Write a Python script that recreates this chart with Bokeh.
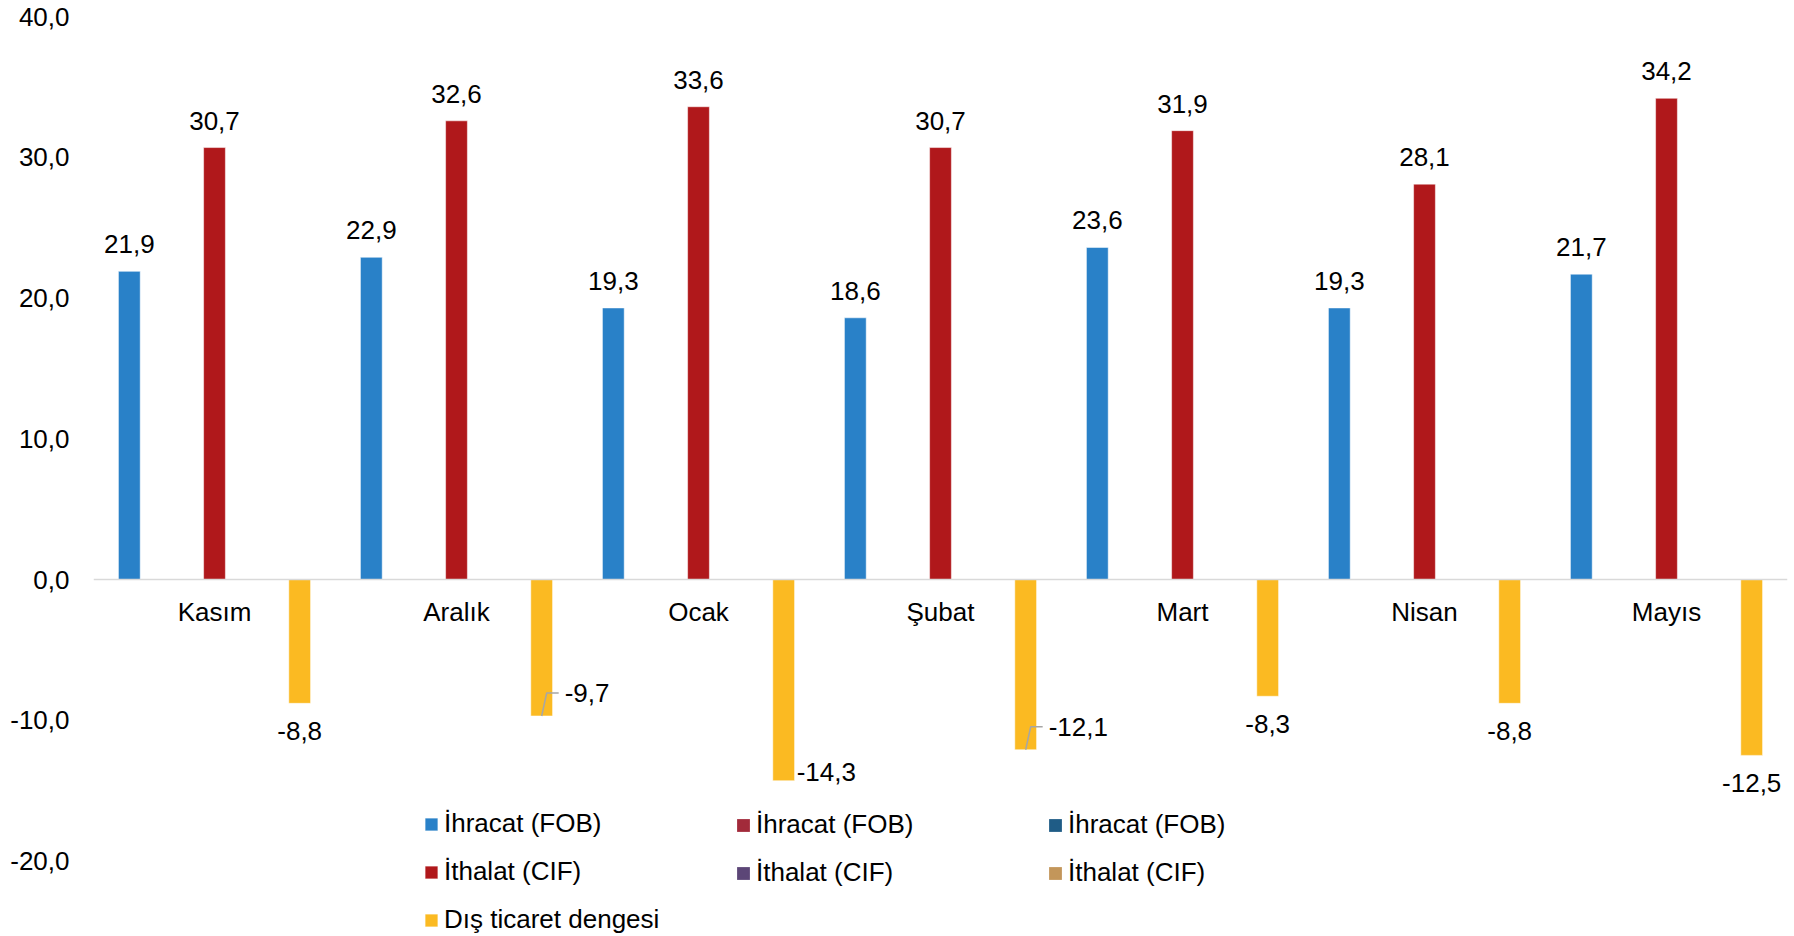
from bokeh.plotting import figure
from bokeh.models import (Range1d, FixedTicker, CustomJSTickFormatter, Span,
                          ColumnDataSource, Legend, LegendItem)
from bokeh.core.properties import value
from bokeh.embed import file_html
from bokeh.resources import INLINE

# ---------------- data ----------------
months = ["Kasım", "Aralık", "Ocak", "Şubat", "Mart", "Nisan", "Mayıs"]
exports = [21.9, 22.9, 19.3, 18.6, 23.6, 19.3, 21.7]
imports = [30.7, 32.6, 33.6, 30.7, 31.9, 28.1, 34.2]
balance = [-8.8, -9.7, -14.3, -12.1, -8.3, -8.8, -12.5]
y_ticks = [-20, -10, 0, 10, 20, 30, 40]

legend_cols = [
    [("İhracat (FOB)", "#2981C8"), ("İthalat (CIF)", "#B0181B"), ("Dış ticaret dengesi", "#FBBA22")],
    [("İhracat (FOB)", "#A22A3A"), ("İthalat (CIF)", "#5C4677")],
    [("İhracat (FOB)", "#1F5C86"), ("İthalat (CIF)", "#C3965A")],
]

# ---------------- style / layout ----------------
FONT = "Liberation Sans"
FS = "26px"
W, H = 1790, 936
LEFT, RIGHT = 93, 3
n = len(months)
PX_X = (W - LEFT - RIGHT) / n
ZERO_PX = 579.0
PX_Y = 14.07
Y_HI = ZERO_PX / PX_Y
Y_LO = -(H - ZERO_PX) / PX_Y
OFF = 0.352
BAR_W = 0.09
COLORS = ["#2981C8", "#B0181B", "#FBBA22"]
# label placement styles for balance series
leader_idx = {1, 3}
right_idx = {2}

p = figure(width=W, height=H, output_backend="svg", toolbar_location=None,
           x_range=Range1d(-0.5, n - 0.5), y_range=Range1d(Y_LO, Y_HI),
           x_axis_location=None, min_border_left=LEFT, min_border_right=RIGHT,
           min_border_top=0, min_border_bottom=0)
p.outline_line_color = None
p.xgrid.visible = False
p.ygrid.visible = False
p.background_fill_color = "white"
p.border_fill_color = "white"

ax = p.yaxis[0]
ax.ticker = FixedTicker(ticks=y_ticks)
ax.formatter = CustomJSTickFormatter(code="return tick.toFixed(1).replace('.', ',')")
ax.axis_line_color = None
ax.major_tick_line_color = None
ax.minor_tick_line_color = None
ax.major_tick_out = 0
ax.major_tick_in = 0
ax.major_label_standoff = 24
ax.major_label_text_font = FONT
ax.major_label_text_font_size = FS
ax.major_label_text_color = "black"

p.add_layout(Span(location=0, dimension="width", line_color="#D9D9D9", line_width=1.5))

series = [exports, imports, balance]
offsets = [-OFF, 0.0, OFF]
renderers = []
for vals, off, col in zip(series, offsets, COLORS):
    src = ColumnDataSource(dict(x=[i + off for i in range(n)], top=vals))
    r = p.vbar(x="x", top="top", bottom=0, width=BAR_W, source=src,
               fill_color=col, line_color="white", line_alpha=0.5, line_width=1)
    renderers.append(r)

# value labels
c_x, c_y, c_t, c_dy = [], [], [], []
s_x, s_y, s_t, s_dx, s_dy = [], [], [], [], []
lx, ly = [], []
for k, (vals, off) in enumerate(zip(series, offsets)):
    for i, v in enumerate(vals):
        xc = i + off
        txt = f"{v:.1f}".replace(".", ",")
        if k == 2 and i in leader_idx:
            up = 23
            s_x.append(xc); s_y.append(v); s_t.append(txt)
            s_dx.append(23); s_dy.append(-up)
            lx.append([xc, xc + 5 / PX_X, xc + 17 / PX_X])
            ly.append([v, v + up / PX_Y, v + up / PX_Y])
        elif k == 2 and i in right_idx:
            s_x.append(xc); s_y.append(v); s_t.append(txt)
            s_dx.append(13); s_dy.append(-9)
        else:
            c_x.append(xc); c_y.append(v); c_t.append(txt)
            c_dy.append(-27 if v >= 0 else 28)

p.text(x="x", y="y", text="t", y_offset="dy",
       source=ColumnDataSource(dict(x=c_x, y=c_y, t=c_t, dy=c_dy)),
       text_align="center", text_baseline="middle", text_font=value(FONT),
       text_font_size=FS, text_color="black")
p.text(x="x", y="y", text="t", x_offset="dx", y_offset="dy",
       source=ColumnDataSource(dict(x=s_x, y=s_y, t=s_t, dx=s_dx, dy=s_dy)),
       text_align="left", text_baseline="middle", text_font=value(FONT),
       text_font_size=FS, text_color="black")
p.multi_line(xs=lx, ys=ly, line_color="#A6A6A6", line_width=1.5)

# category labels under zero line
p.text(x=list(range(n)), y=[0] * n, text=months, y_offset=32,
       text_align="center", text_baseline="middle", text_font=value(FONT),
       text_font_size=FS, text_color="black")

# legends (three columns)
col_x = [330, 642, 954]
LBL_H, SPACING = 30, 17
ROW_PITCH = LBL_H + SPACING
LAST_ROW = 920
nan = float("nan")
for ci, items in enumerate(legend_cols):
    litems = []
    for li, (lab, colr) in enumerate(items):
        if ci == 0:
            rr = renderers[li]
        else:
            rr = p.vbar(x=[nan], top=[nan], width=BAR_W, fill_color=colr, line_color=None)
        litems.append(LegendItem(label=lab, renderers=[rr], index=0))
    nrow = len(items)
    last_center = LAST_ROW - (3 - nrow) * ROW_PITCH
    bottom = last_center + LBL_H / 2
    leg = Legend(items=litems, location=(col_x[ci], H - bottom), orientation="vertical",
                 padding=0, margin=0, spacing=SPACING, label_height=LBL_H,
                 glyph_width=16, glyph_height=16, label_standoff=5,
                 border_line_color=None, background_fill_alpha=0,
                 label_text_font=FONT, label_text_font_size=FS, label_text_color="black")
    p.add_layout(leg, "center")

open("out.html", "w").write(file_html(p, INLINE))
